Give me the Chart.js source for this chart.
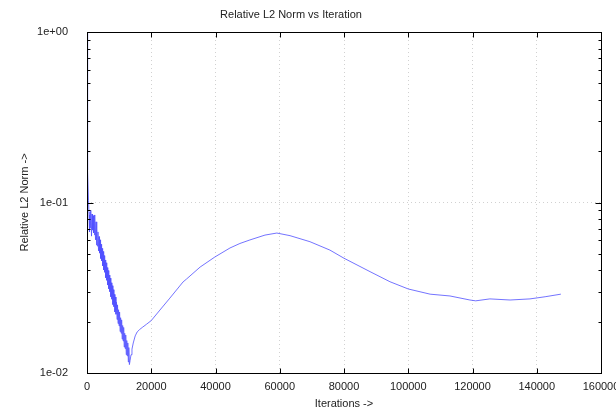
<!DOCTYPE html>
<html>
<head>
<meta charset="utf-8">
<script src="https://cdn.jsdelivr.net/npm/chart.js@4/dist/chart.umd.min.js"></script>
<style>
  html, body { margin: 0; padding: 0; background: #fff; overflow: hidden; }
  #wrap { position: relative; width: 616px; height: 411px; }
</style>
</head>
<body>
<div id="wrap"><canvas id="normChart"></canvas></div>
<script>
var chartTitle = 'Relative L2 Norm vs Iteration';
var xLabel = 'Iterations ->';
var yLabel = 'Relative L2 Norm ->';

// x axis: 0 .. 160000 step 20000
var xMin = 0, xMax = 160000, xStep = 20000;
// y axis (log): decades plus minor ticks
var yTicks = [0.01, 0.02, 0.03, 0.04, 0.05, 0.06, 0.07, 0.08, 0.09,
              0.1, 0.2, 0.3, 0.4, 0.5, 0.6, 0.7, 0.8, 0.9, 1];

// iterations / norm
var iterations = [
    0, 80, 156, 311, 467, 623, 778, 934, 1090, 1245, 1401, 1557, 1712, 1868, 2024,
    2179, 2335, 2490, 2646, 2802, 2957,
    3100, 3260, 3420, 3580, 3740, 3900, 4060, 4220, 4380, 4540, 4700, 4860,
    5020, 5180, 5340, 5500, 5660, 5820, 5980, 6140, 6300, 6460, 6620, 6780,
    6940, 7100, 7260, 7420, 7580, 7740, 7900, 8060, 8220, 8380, 8540, 8700,
    8860, 9020, 9180, 9340, 9500, 9660, 9820, 9980, 10140, 10300, 10460, 10620,
    10780, 10940, 11100, 11260, 11420, 11580, 11740, 11900, 12060, 12220, 12380, 12540,
    12700, 12860, 13020, 13200, 13400, 13700, 14000, 14400, 15000, 15600, 16400, 17200,
    18500, 20000, 22700, 25800, 29900, 31000, 35200, 39800, 44500, 47600, 50700, 55400, 59100,
    63200, 69400, 75600, 80000, 88100, 94300, 100000, 106800, 113000, 119200, 121000, 125400, 131700,
    137900, 142600, 147500
];
var norms = [
    1.0, 0.55, 0.27, 0.155, 0.103, 0.0845, 0.0673, 0.088, 0.0707, 0.0901, 0.0635, 0.0856, 0.0689, 0.0833, 0.0664,
    0.0845, 0.0644, 0.0811, 0.0604, 0.0770, 0.0562,
    0.0700, 0.0555, 0.0672, 0.0520, 0.0631, 0.0505, 0.0604, 0.0470, 0.0569, 0.0455, 0.0538, 0.0425,
    0.0516, 0.0402, 0.0488, 0.0390, 0.0460, 0.0362, 0.0443, 0.0350, 0.0415, 0.0328, 0.0399, 0.0312,
    0.0375, 0.0300, 0.0360, 0.0280, 0.0338, 0.0271, 0.0325, 0.0252, 0.0308, 0.0245, 0.0289, 0.0228,
    0.0279, 0.0221, 0.0260, 0.0206, 0.0251, 0.0195, 0.0235, 0.0189, 0.0228, 0.0175, 0.0211, 0.0171,
    0.0205, 0.0158, 0.0190, 0.0154, 0.0185, 0.0142, 0.0171, 0.0139, 0.0167, 0.0128, 0.0155, 0.0126,
    0.0150, 0.0116, 0.0141, 0.0112, 0.0118, 0.0128, 0.0138, 0.0150, 0.0165, 0.0174, 0.0180, 0.0185,
    0.0193, 0.0203, 0.0234, 0.0275, 0.0342, 0.0356, 0.0418, 0.0479, 0.0541, 0.0575, 0.0603, 0.0644, 0.0662,
    0.0639, 0.0589, 0.0526, 0.0471, 0.0393, 0.0343, 0.0311, 0.0290, 0.0283, 0.0268, 0.0265, 0.0272, 0.0268,
    0.0272, 0.0280, 0.0290
];

var points = iterations.map(function (it, i) { return { x: it, y: norms[i] }; });

function isDecade(v) {
    var e = Math.log10(v);
    return Math.abs(e - Math.round(e)) < 1e-9;
}
function expLabel(v) {
    var e = Math.round(Math.log10(v));
    var s = Math.abs(e) < 10 ? '0' + Math.abs(e) : '' + Math.abs(e);
    return '1e' + (e < 0 ? '-' : '+') + s;
}

// frame, inward tick marks and the title, gnuplot style
var framePlugin = {
    id: 'frame',
    afterDraw: function (chart) {
        var ctx = chart.ctx, a = chart.chartArea;
        var xs = chart.scales.x, ys = chart.scales.y;
        var L = a.left + 0.5, R = a.right + 0.5, T = a.top + 0.5, B = a.bottom + 0.5;
        ctx.save();
        ctx.strokeStyle = '#000';
        ctx.lineWidth = 1;
        ctx.strokeRect(L, T, R - L, B - T);
        ctx.beginPath();
        xs.ticks.forEach(function (t) {
            var px = Math.round(xs.getPixelForValue(t.value)) + 0.5;
            ctx.moveTo(px, B); ctx.lineTo(px, B - 5);
            ctx.moveTo(px, T); ctx.lineTo(px, T + 5);
        });
        yTicks.forEach(function (v) {
            var py = Math.round(ys.getPixelForValue(v)) + 0.5;
            var len = isDecade(v) ? 6 : 3;
            ctx.moveTo(L, py); ctx.lineTo(L + len, py);
            ctx.moveTo(R, py); ctx.lineTo(R - len, py);
        });
        ctx.stroke();
        ctx.fillStyle = '#222';
        ctx.font = '11px "Liberation Sans", Arial, sans-serif';
        ctx.textAlign = 'center';
        ctx.textBaseline = 'middle';
        ctx.fillText(chartTitle, 291, 15);
        ctx.restore();
    }
};

Chart.defaults.font.family = '"Liberation Sans", Arial, sans-serif';
Chart.defaults.font.size = 11;
Chart.defaults.color = '#222';

var ctx = document.getElementById('normChart').getContext('2d');
new Chart(ctx, {
    type: 'line',
    data: {
        datasets: [{
            label: 'norm',
            data: points,
            borderColor: 'rgba(80, 80, 255, 0.8)',
            borderWidth: 1,
            pointRadius: 0,
            fill: false,
            tension: 0
        }]
    },
    options: {
        responsive: true,
        maintainAspectRatio: false,
        animation: false,
        layout: { padding: { top: 32, right: 15, left: 0, bottom: 0 } },
        plugins: {
            legend: { display: false },
            tooltip: { enabled: false },
            title: { display: false }
        },
        scales: {
            x: {
                type: 'linear',
                min: xMin,
                max: xMax,
                ticks: {
                    stepSize: xStep, autoSkip: false, maxRotation: 0, padding: 7, color: '#222',
                    callback: function (v) { return String(v); }
                },
                grid: { color: 'rgba(0,0,0,0.18)', drawTicks: false, lineWidth: 1 },
                border: { display: false, dash: [1, 3] },
                title: { display: true, text: xLabel, padding: { top: 3, bottom: 0 }, color: '#222' },
                afterFit: function (scale) {
                    scale.height = 38;
                    scale.paddingLeft = 0;
                    scale.paddingRight = 0;
                }
            },
            y: {
                type: 'logarithmic',
                min: 0.01,
                max: 1,
                afterBuildTicks: function (scale) {
                    scale.ticks = yTicks.map(function (v) { return { value: v }; });
                },
                ticks: {
                    autoSkip: false,
                    padding: 19,
                    color: '#222',
                    callback: function (v) { return isDecade(v) ? expLabel(v) : ''; }
                },
                grid: {
                    color: function (c) {
                        return (c.tick && Math.abs(c.tick.value - 0.1) < 1e-9) ? 'rgba(0,0,0,0.18)' : 'transparent';
                    },
                    drawTicks: false
                },
                border: { display: false, dash: [1, 3] },
                title: { display: true, text: yLabel, padding: { top: 18, bottom: 0 }, color: '#222' },
                afterFit: function (scale) {
                    scale.width = 87;
                }
            }
        }
    },
    plugins: [framePlugin]
});
</script>
</body>
</html>
